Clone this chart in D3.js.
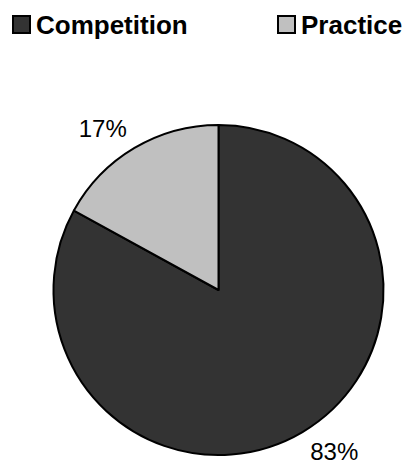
<!DOCTYPE html>
<html>
<head>
<meta charset="utf-8">
<script src="https://cdn.jsdelivr.net/npm/d3@7"></script>
<style>
  html, body { margin: 0; padding: 0; background: #fff; }
  svg { display: block; font-family: Arial, "Liberation Sans", sans-serif; }
</style>
</head>
<body>
<svg id="chart" width="406" height="467"></svg>
<script>
// Share of sessions by type
const categories = ["Competition", "Practice"];
const shares = [83, 17];
const colors = ["#333333", "#c0c0c0"];

const width = 406, height = 467;
const cx = 218.5, cy = 290, radius = 165;

const svg = d3.select("#chart");

const pie = d3.pie().sort(null).value(d => d.value);
const data = pie(categories.map((c, i) => ({ name: c, value: shares[i] })));
const color = d3.scaleOrdinal().domain(categories).range(colors);

const arc = d3.arc().innerRadius(0).outerRadius(radius);

const g = svg.append("g").attr("transform", `translate(${cx},${cy})`);

g.selectAll("path.slice")
  .data(data)
  .join("path")
  .attr("class", "slice")
  .attr("d", arc)
  .attr("fill", d => color(d.data.name))
  .attr("stroke", "#000")
  .attr("stroke-width", 2)
  .attr("stroke-linejoin", "round");

// Percentage labels outside each slice, anchored away from the centre
const labelRadius = 188;
g.selectAll("text.pct")
  .data(data)
  .join("text")
  .attr("class", "pct")
  .each(function (d) {
    const a = (d.startAngle + d.endAngle) / 2;
    const x = labelRadius * Math.sin(a);
    const y = -labelRadius * Math.cos(a);
    d3.select(this)
      .attr("x", x + (x >= 0 ? -4 : 4))
      .attr("y", y)
      .attr("dy", "0.36em")
      .attr("text-anchor", x >= 0 ? "start" : "end");
  })
  .attr("font-size", 24)
  .attr("fill", "#000")
  .text(d => d.data.value + "%");

// Legend across the top
const legendX = d3.scalePoint().domain(categories).range([12, 277]);
const legend = svg.append("g").selectAll("g.item")
  .data(categories)
  .join("g")
  .attr("class", "item")
  .attr("transform", d => `translate(${legendX(d)},15)`);

legend.append("rect")
  .attr("x", 1).attr("y", 1)
  .attr("width", 17).attr("height", 17)
  .attr("fill", d => color(d))
  .attr("stroke", "#000")
  .attr("stroke-width", 2);

legend.append("text")
  .attr("x", 24)
  .attr("y", 19)
  .attr("font-size", 26)
  .attr("font-weight", "bold")
  .attr("fill", "#000")
  .text(d => d);
</script>
</body>
</html>
